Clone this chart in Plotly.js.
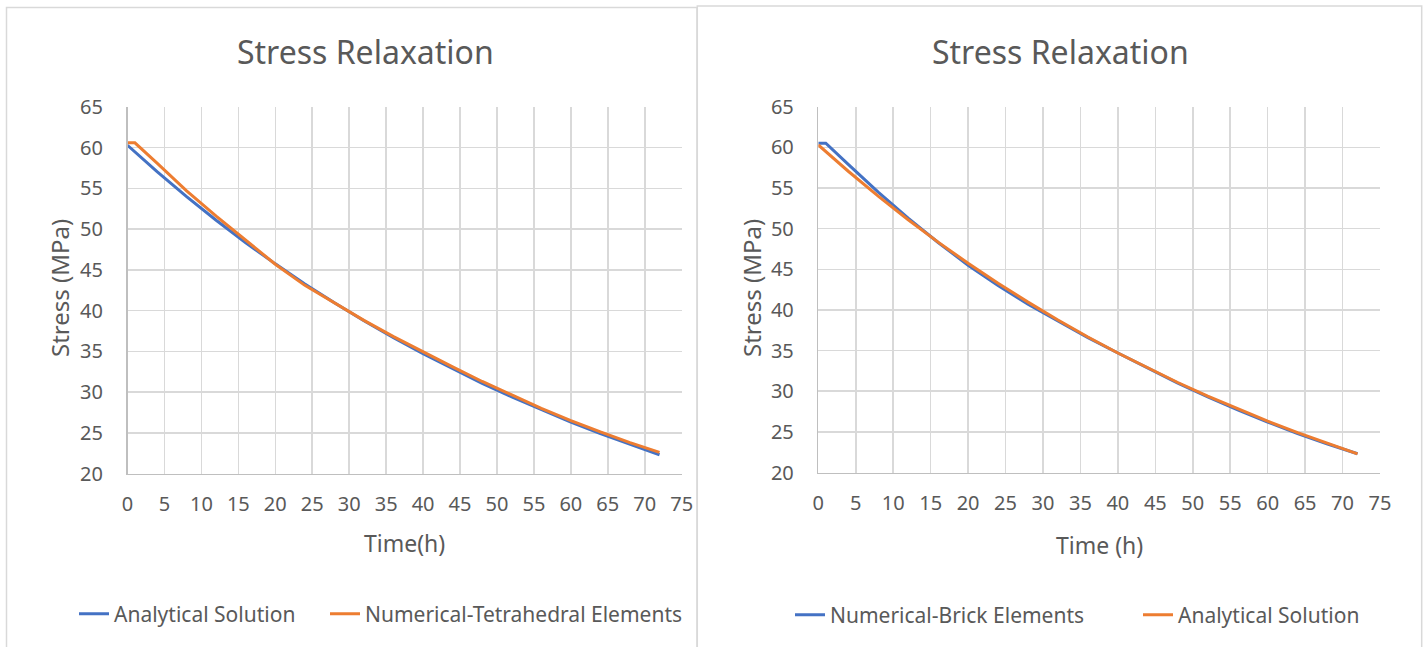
<!DOCTYPE html>
<html>
<head>
<meta charset="utf-8">
<script src="https://cdn.plot.ly/plotly-3.0.1.min.js"></script>
<style>
html,body{margin:0;padding:0;background:#fff;overflow:hidden;}
#chart{width:1426px;height:647px;}
</style>
</head>
<body>
<div id="chart"></div>
<script>
// ---- data ----
const timeAnalytical = [0, 4, 8, 12, 16, 20, 24, 28, 32, 36, 40, 44, 48, 52, 56, 60, 64, 68, 72];
const analyticalStress = [60.3, 57.06, 53.99, 51.09, 48.34, 45.74, 43.28, 40.96, 38.76, 36.67, 34.70, 32.84, 31.07, 29.40, 27.82, 26.32, 24.91, 23.57, 22.30];

const timeTetra = [0, 1, 4, 8, 12, 16, 20, 24, 28, 32, 36, 40, 44, 48, 52, 56, 60, 64, 68, 72];
const tetraStress = [60.6, 60.6, 58.1, 54.7, 51.6, 48.6, 45.7, 43.1, 40.9, 38.8, 36.8, 34.9, 33.1, 31.3, 29.6, 28.0, 26.5, 25.1, 23.8, 22.6];

const timeBrick = [0, 1, 4, 8, 12, 16, 20, 24, 28, 32, 36, 40, 44, 48, 52, 56, 60, 64, 68, 72];
const brickStress = [60.5, 60.5, 57.9, 54.5, 51.3, 48.3, 45.5, 43.0, 40.7, 38.6, 36.6, 34.7, 32.8, 31.0, 29.3, 27.7, 26.2, 24.8, 23.5, 22.3];

const xTickVals = [0, 5, 10, 15, 20, 25, 30, 35, 40, 45, 50, 55, 60, 65, 70, 75];
const yTickVals = [20, 25, 30, 35, 40, 45, 50, 55, 60, 65];

const chartTitle = "Stress Relaxation";
const yTitle = "Stress (MPa)";
const xTitleLeft = "Time(h)";
const xTitleRight = "Time (h)";
const nameAnalytical = "Analytical Solution";
const nameTetra = "Numerical-Tetrahedral Elements";
const nameBrick = "Numerical-Brick Elements";

// ---- styling ----
const W = 1426, H = 647;
const BLUE = "#4472C4", ORANGE = "#ED7D31";
const TXT = "#595959", GRID = "#d9d9d9", AXIS = "#bfbfbf";
const FONT = "Noto Sans, Open Sans, sans-serif";
const px = v => v / W;
const py = v => 1 - v / H;

const traces = [
  {x: timeAnalytical, y: analyticalStress, name: nameAnalytical, type: "scatter", mode: "lines",
   line: {color: BLUE, width: 3}, xaxis: "x", yaxis: "y", legend: "legend"},
  {x: timeTetra, y: tetraStress, name: nameTetra, type: "scatter", mode: "lines",
   line: {color: ORANGE, width: 3}, xaxis: "x", yaxis: "y", legend: "legend2"},
  {x: timeBrick, y: brickStress, name: nameBrick, type: "scatter", mode: "lines",
   line: {color: BLUE, width: 3}, xaxis: "x2", yaxis: "y2", legend: "legend3"},
  {x: timeAnalytical, y: analyticalStress, name: nameAnalytical, type: "scatter", mode: "lines",
   line: {color: ORANGE, width: 3}, xaxis: "x2", yaxis: "y2", legend: "legend4"}
];

function xaxis(domain, anchor) {
  return {
    domain: domain, anchor: anchor, range: [0, 75], tickvals: xTickVals,
    showgrid: true, gridcolor: GRID, gridwidth: 1.5,
    showline: true, linecolor: AXIS, linewidth: 1.5, zeroline: false,
    ticks: "", ticklabelstandoff: 12, automargin: false,
    tickfont: {family: FONT, size: 20, color: TXT}, fixedrange: true
  };
}
function yaxis(domain, anchor) {
  return {
    domain: domain, anchor: anchor, range: [20, 65], tickvals: yTickVals,
    showgrid: true, gridcolor: GRID, gridwidth: 1.5,
    showline: true, linecolor: AXIS, linewidth: 1.5, zeroline: false,
    ticks: "", ticklabelstandoff: 19, automargin: false,
    tickfont: {family: FONT, size: 20, color: TXT}, fixedrange: true
  };
}

const ann = (x, y, text, size, extra) => Object.assign({
  xref: "paper", yref: "paper", x: px(x), y: py(y), text: text, showarrow: false,
  xanchor: "center", yanchor: "middle", font: {family: FONT, size: size, color: TXT}
}, extra || {});

const legendFont = {family: FONT, size: 21, color: TXT};
const leg = (x, y) => ({orientation: "h", x: px(x), xanchor: "left", y: py(y), yanchor: "middle",
  font: legendFont, bgcolor: "rgba(0,0,0,0)", itemwidth: 30});

const layout = {
  width: W, height: H, margin: {l: 0, r: 0, t: 0, b: 0, autoexpand: false},
  paper_bgcolor: "#fff", plot_bgcolor: "#fff", showlegend: true,
  xaxis: xaxis([px(127.5), px(681.7)], "y"),
  yaxis: yaxis([py(473.5), py(107)], "x"),
  xaxis2: xaxis([px(818.3), px(1380)], "y2"),
  yaxis2: yaxis([py(472.5), py(106.7)], "x2"),
  legend: leg(74, 614),
  legend2: leg(325, 614),
  legend3: leg(790, 615),
  legend4: leg(1138, 615),
  annotations: [
    ann(365, 52, chartTitle, 32),
    ann(1060, 52, chartTitle, 32),
    ann(59, 288, yTitle, 24, {textangle: -90}),
    ann(751, 288, yTitle, 24, {textangle: -90}),
    ann(404, 543, xTitleLeft, 23),
    ann(1099, 545, xTitleRight, 23)
  ],
  shapes: [
    {type: "rect", xref: "paper", yref: "paper", x0: px(6.5), x1: px(697), y0: py(660), y1: py(7.5),
     line: {color: GRID, width: 1.5}, fillcolor: "rgba(0,0,0,0)", layer: "below"},
    {type: "rect", xref: "paper", yref: "paper", x0: px(697.3), x1: px(1421.7), y0: py(660), y1: py(6),
     line: {color: GRID, width: 1.5}, fillcolor: "rgba(0,0,0,0)", layer: "below"}
  ]
};

Plotly.newPlot("chart", traces, layout, {staticPlot: true, displayModeBar: false});
</script>
</body>
</html>
